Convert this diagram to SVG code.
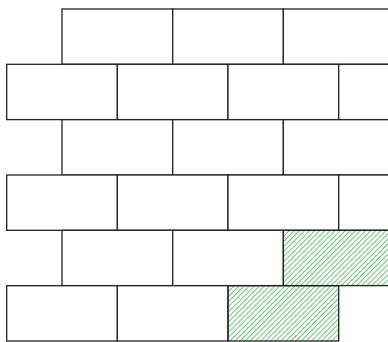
<svg xmlns="http://www.w3.org/2000/svg" width="388" height="342" viewBox="0 0 388 342">
<defs>
<pattern id="hatch" patternUnits="userSpaceOnUse" width="3.6" height="3.6" patternTransform="rotate(45)">
<line x1="0" y1="0" x2="0" y2="3.6" stroke="#3fb54f" stroke-width="1.5"/>
</pattern>
</defs>
<style>
.b{fill:#fff;stroke:#222;stroke-width:1.3}
.h{fill:url(#hatch);stroke:#222;stroke-width:1.3}
</style>
<rect width="388" height="342" fill="#fff"/>
<g id="row1">
<rect class="b" x="62" y="9" width="110.7" height="55.3"/>
<rect class="b" x="172.7" y="9" width="110.7" height="55.3"/>
<rect class="b" x="283.3" y="9" width="110.7" height="55.3"/>
</g>
<g id="row2">
<rect class="b" x="6.7" y="64.3" width="110.7" height="55.3"/>
<rect class="b" x="117.3" y="64.3" width="110.7" height="55.3"/>
<rect class="b" x="228" y="64.3" width="110.7" height="55.3"/>
<rect class="b" x="338.7" y="64.3" width="110.7" height="55.3"/>
</g>
<g id="row3">
<rect class="b" x="62" y="119.7" width="110.7" height="55.3"/>
<rect class="b" x="172.7" y="119.7" width="110.7" height="55.3"/>
<rect class="b" x="283.3" y="119.7" width="110.7" height="55.3"/>
</g>
<g id="row4">
<rect class="b" x="6.7" y="175" width="110.7" height="55.3"/>
<rect class="b" x="117.3" y="175" width="110.7" height="55.3"/>
<rect class="b" x="228" y="175" width="110.7" height="55.3"/>
<rect class="b" x="338.7" y="175" width="110.7" height="55.3"/>
</g>
<g id="row5">
<rect class="b" x="62" y="230.3" width="110.7" height="55.3"/>
<rect class="b" x="172.7" y="230.3" width="110.7" height="55.3"/>
<rect class="h" x="283.3" y="230.3" width="110.7" height="55.3"/>
</g>
<g id="row6">
<rect class="b" x="6.7" y="285.7" width="110.7" height="55.3"/>
<rect class="b" x="117.3" y="285.7" width="110.7" height="55.3"/>
<rect class="h" x="228" y="285.7" width="110.7" height="55.3"/>
</g>
</svg>
